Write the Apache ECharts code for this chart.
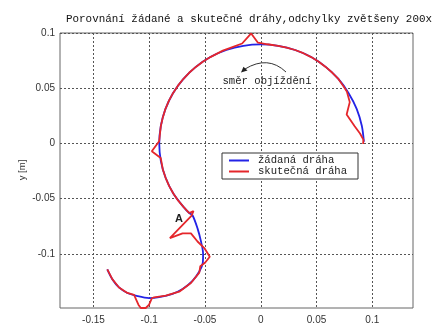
<!DOCTYPE html>
<html>
<head>
<meta charset="utf-8">
<script src="https://cdn.jsdelivr.net/npm/echarts@6/dist/echarts.min.js"></script>
<style>
  html, body { margin: 0; padding: 0; background: #fff; }
  #chart { width: 434px; height: 325px; }
</style>
</head>
<body>
<div id="chart"></div>
<script>
// Texts
const titleText = 'Porovnání žádané a skutečné dráhy,odchylky zvětšeny 200x';
const seriesNames = ['žádaná dráha', 'skutečná dráha'];
const yAxisTitle = 'y [m]';
const directionNote = 'směr objíždění';
const pointLabel = 'A';

// Tick values
const xTicks = [-0.15, -0.1, -0.05, 0, 0.05, 0.1];
const yTicks = [-0.1, -0.05, 0, 0.05, 0.1];

// Desired path [x, y] in metres, in driving order
const desiredPath = [
  [0.0925, 0.0015], [0.0906, 0.0160], [0.0860, 0.0313], [0.0788, 0.0455],
  [0.0696, 0.0584], [0.0582, 0.0693], [0.0452, 0.0782], [0.0308, 0.0846],
  [0.0156, 0.0884], [0.0000, 0.0897], [-0.0156, 0.0884], [-0.0308, 0.0846],
  [-0.0452, 0.0782], [-0.0582, 0.0693], [-0.0695, 0.0583], [-0.0787, 0.0455],
  [-0.0855, 0.0311], [-0.0896, 0.0158], [-0.0910, 0.0000], [-0.0896, -0.0158],
  [-0.0853, -0.0311], [-0.0784, -0.0453], [-0.0689, -0.0579], [-0.0641, -0.0630],
  [-0.0612, -0.0650], [-0.0567, -0.0769], [-0.0536, -0.0887], [-0.0517, -0.1000],
  [-0.0520, -0.1081], [-0.0551, -0.1160], [-0.0612, -0.1244], [-0.0701, -0.1318],
  [-0.0791, -0.1362], [-0.0911, -0.1392], [-0.1001, -0.1400], [-0.1121, -0.1378],
  [-0.1196, -0.1354], [-0.1271, -0.1304], [-0.1331, -0.1229], [-0.1376, -0.1140]
];

// Actual (measured) path, deviations magnified
const actualPath = [
  [0.0918, -0.0005], [0.0935, 0.0005], [0.0920, 0.0035], [0.0890, 0.0090],
  [0.0842, 0.0155], [0.0770, 0.0262], [0.0798, 0.0374], [0.0772, 0.0470],
  [0.0740, 0.0520], [0.0696, 0.0584], [0.0642, 0.0640], [0.0582, 0.0693],
  [0.0520, 0.0740], [0.0452, 0.0782], [0.0382, 0.0817], [0.0308, 0.0846],
  [0.0232, 0.0868], [0.0156, 0.0884], [0.0060, 0.0898], [-0.0025, 0.0912],
  [-0.0086, 0.0996], [-0.0167, 0.0905], [-0.0260, 0.0870], [-0.0340, 0.0840],
  [-0.0452, 0.0782], [-0.0520, 0.0740], [-0.0582, 0.0693], [-0.0642, 0.0640],
  [-0.0695, 0.0583], [-0.0744, 0.0521], [-0.0787, 0.0455], [-0.0824, 0.0385],
  [-0.0855, 0.0311], [-0.0878, 0.0236], [-0.0896, 0.0158], [-0.0911, 0.0020],
  [-0.0977, -0.0071], [-0.0897, -0.0131], [-0.0878, -0.0236], [-0.0853, -0.0311],
  [-0.0822, -0.0384], [-0.0784, -0.0453], [-0.0740, -0.0518], [-0.0689, -0.0579],
  [-0.0641, -0.0630], [-0.0603, -0.0612], [-0.0622, -0.0655], [-0.0815, -0.0858],
  [-0.0701, -0.0814], [-0.0626, -0.0814], [-0.0567, -0.0888], [-0.0506, -0.0947],
  [-0.0457, -0.1026], [-0.0500, -0.1080], [-0.0542, -0.1112], [-0.0551, -0.1170],
  [-0.0626, -0.1264], [-0.0731, -0.1342], [-0.0851, -0.1378], [-0.0956, -0.1393],
  [-0.0977, -0.1402], [-0.1001, -0.1460], [-0.1031, -0.1490], [-0.1076, -0.1490],
  [-0.1097, -0.1460], [-0.1136, -0.1371], [-0.1196, -0.1354], [-0.1271, -0.1304],
  [-0.1331, -0.1229], [-0.1376, -0.1140]
];

const monoFont = '"Liberation Mono", "DejaVu Sans Mono", monospace';
const sansFont = '"Liberation Sans", Arial, sans-serif';
const gridLine = { show: true, lineStyle: { color: '#555', width: 1, type: [2, 2] } };

const chart = echarts.init(document.getElementById('chart'), null, { renderer: 'canvas' });

chart.setOption({
  backgroundColor: '#fff',
  animation: false,
  title: {
    text: titleText,
    left: 66,
    top: 14,
    padding: 0,
    textStyle: { fontFamily: monoFont, fontSize: 10.9, fontWeight: 'normal', color: '#111' }
  },
  grid: {
    left: 60, right: 21, top: 33, bottom: 12,
    show: true, borderColor: '#666', borderWidth: 1, backgroundColor: 'transparent'
  },
  xAxis: {
    type: 'value', min: -0.18, max: 0.1365,
    axisLine: { show: false },
    axisTick: { show: false, customValues: xTicks },
    splitLine: gridLine,
    axisLabel: {
      customValues: xTicks, margin: 7,
      fontFamily: sansFont, fontSize: 10, color: '#333',
      formatter: v => String(v)
    }
  },
  yAxis: {
    type: 'value', min: -0.149, max: 0.1,
    axisLine: { show: false },
    axisTick: { show: false, customValues: yTicks },
    splitLine: gridLine,
    axisLabel: {
      customValues: yTicks, margin: 5,
      fontFamily: sansFont, fontSize: 10, color: '#333',
      formatter: v => String(v)
    }
  },
  legend: {
    orient: 'vertical',
    left: 222, top: 153,
    data: seriesNames,
    icon: 'rect',
    itemWidth: 20, itemHeight: 2, itemGap: 0,
    padding: [2, 11, 2, 7],
    backgroundColor: '#fff',
    borderColor: '#333', borderWidth: 1, borderRadius: 0,
    textStyle: { fontFamily: monoFont, fontSize: 10.6, color: '#222', lineHeight: 11, padding: [0, 0, 0, 4] }
  },
  series: [
    {
      name: seriesNames[0], type: 'line', data: desiredPath,
      symbol: 'none', smooth: 0.3, z: 2,
      itemStyle: { color: '#2323e6' },
      lineStyle: { color: '#2323e6', width: 1.8 }
    },
    {
      name: seriesNames[1], type: 'line', data: actualPath,
      symbol: 'none', smooth: false, z: 3,
      itemStyle: { color: '#e5262b' },
      lineStyle: { color: '#e5262b', width: 1.8 }
    }
  ],
  graphic: [
    {
      type: 'text', x: 22, y: 170, rotation: Math.PI / 2,
      style: { text: yAxisTitle, fontFamily: sansFont, fontSize: 9.5, fill: '#333', align: 'center', verticalAlign: 'middle' }
    },
    {
      type: 'text', x: 267, y: 81,
      style: { text: directionNote, fontFamily: monoFont, fontSize: 10.6, fill: '#222', align: 'center', verticalAlign: 'middle' }
    },
    {
      type: 'bezierCurve',
      shape: { x1: 286, y1: 72, x2: 245, y2: 69, cpx1: 268, cpy1: 55 },
      style: { stroke: '#333', lineWidth: 1, fill: null }
    },
    {
      type: 'polygon',
      shape: { points: [[241, 72.5], [243.5, 66.8], [247.5, 70.6]] },
      style: { fill: '#222' }
    },
    {
      type: 'text', x: 179, y: 218.5,
      style: { text: pointLabel, fontFamily: sansFont, fontSize: 11, fontWeight: 'bold', fill: '#222', align: 'center', verticalAlign: 'middle' }
    }
  ]
});
</script>
</body>
</html>
